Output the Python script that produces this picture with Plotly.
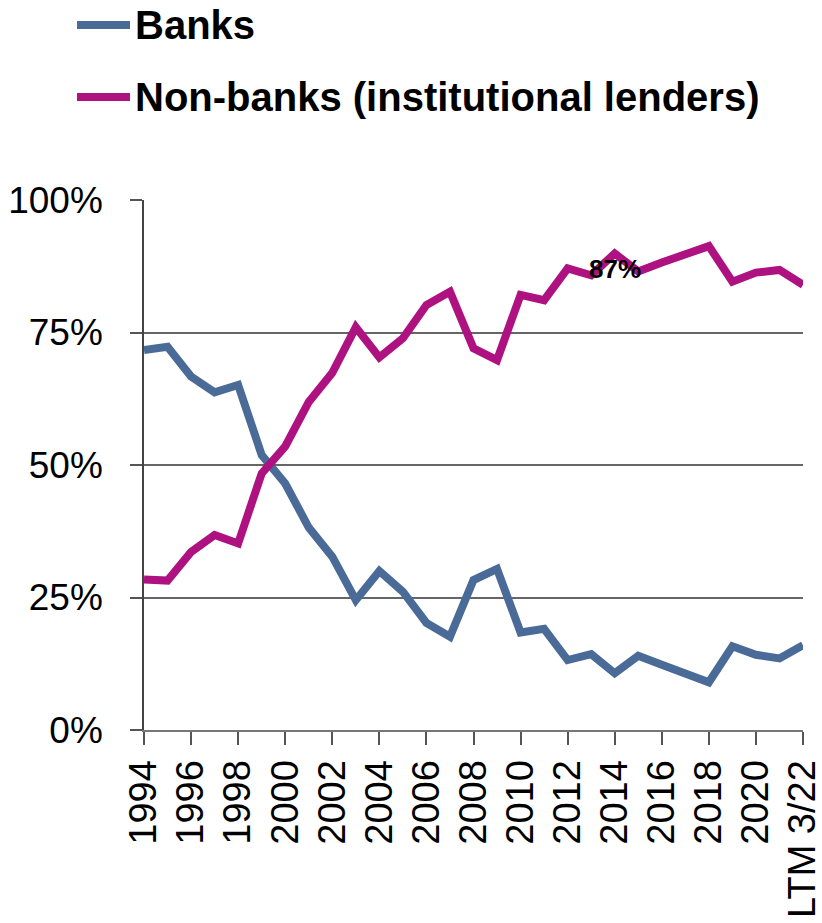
import plotly.graph_objects as go

categories = [str(y) for y in range(1994, 2022)] + ["LTM 3/22"]
banks = [71.7, 72.3, 66.7, 63.7, 65.1, 51.9, 46.5, 38.2, 32.7, 24.5,
         30.0, 26.1, 20.2, 17.6, 28.3, 30.4, 18.4, 19.1, 13.2, 14.3,
         10.7, 14.0, 12.3, 10.8, 9.0, 15.8, 14.2, 13.5, 16.0]
non_banks = [28.4, 28.2, 33.6, 36.8, 35.2, 48.4, 53.5, 61.9, 67.4, 76.0,
             70.3, 73.9, 80.2, 82.7, 72.0, 69.8, 82.1, 81.1, 87.1, 85.8,
             89.9, 86.5, 88.2, 89.6, 91.3, 84.6, 86.3, 86.8, 84.0]
series_names = ["Banks", "Non-banks (institutional lenders)"]
tick_labels = categories[0:27:2] + ["LTM 3/22"]
y_ticks = [0, 25, 50, 75, 100]
PCT = "&#37;"
y_tick_text = [f"{v}{PCT}" for v in y_ticks]
callout_cat, callout_val = "2014", 87
callout_text = f"{callout_val}{PCT}"

BLUE = "#4A6A98"
MAGENTA = "#AE1280"
FONT = "Liberation Sans, Arial, sans-serif"

W, H = 822, 923
L, R, T, B = 144, 19, 200, 193
PW, PH = W - L - R, H - T - B


def px_x(x):
    return (x - L) / PW


def px_y(y):
    return (H - B - y) / PH


fig = go.Figure()
fig.add_trace(go.Scatter(x=categories, y=banks, mode="lines", name=series_names[0],
                         line=dict(color=BLUE, width=8)))
fig.add_trace(go.Scatter(x=categories, y=non_banks, mode="lines", name=series_names[1],
                         line=dict(color=MAGENTA, width=8)))

fig.add_annotation(x=categories.index(callout_cat), y=callout_val, text=callout_text,
                   showarrow=False, xanchor="center", yanchor="middle",
                   font=dict(family=FONT, size=26, color="black", weight="bold"))

# manual legend
for i, (name, col) in enumerate(zip(series_names, [BLUE, MAGENTA])):
    yc = 25 + i * 72
    fig.add_shape(type="line", xref="paper", yref="paper",
                  x0=px_x(77), x1=px_x(130), y0=px_y(yc), y1=px_y(yc),
                  line=dict(color=col, width=8))
    fig.add_annotation(xref="paper", yref="paper", x=px_x(133), y=px_y(yc),
                       text=name, showarrow=False, xanchor="left", yanchor="middle",
                       font=dict(family=FONT, size=40, color="black", weight="bold"))

fig.update_layout(
    width=W, height=H,
    margin=dict(l=L, r=R, t=T, b=B, pad=0, autoexpand=False),
    paper_bgcolor="white", plot_bgcolor="white",
    showlegend=False,
    font=dict(family=FONT, color="black"),
)
fig.update_xaxes(type="category", categoryorder="array", categoryarray=categories,
                 range=[0, len(categories) - 1], automargin=False,
                 tickmode="array", tickvals=tick_labels, ticktext=tick_labels,
                 tickangle=-90, tickfont=dict(family=FONT, size=38, color="black"),
                 ticks="outside", ticklen=13, tickwidth=1.5, tickcolor="#555",
                 showline=True, linecolor="#777", linewidth=2,
                 showgrid=False, zeroline=False)
fig.update_yaxes(range=[0, 100], tickmode="array", tickvals=y_ticks, ticktext=y_tick_text,
                 automargin=False,
                 tickfont=dict(family=FONT, size=37, color="black"),
                 ticks="outside", ticklen=12, tickwidth=1.5, tickcolor="#555",
                 ticklabelstandoff=20,
                 showline=True, linecolor="#444", linewidth=1.5,
                 showgrid=True, gridcolor="#666", gridwidth=1.5, zeroline=False)

fig.write_html("out.html")
